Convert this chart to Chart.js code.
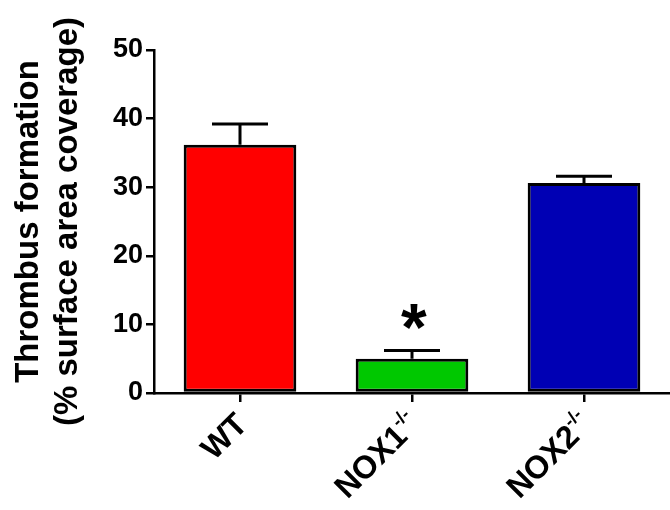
<!DOCTYPE html>
<html><head><meta charset="utf-8">
<script src="https://cdn.jsdelivr.net/npm/chart.js@4/dist/chart.umd.min.js"></script>
<style>html,body{margin:0;padding:0;background:#fff}</style>
</head><body>
<canvas id="c" width="670" height="510" style="display:block;width:670px;height:510px"></canvas>
<script>
const categories = ['WT', 'NOX1', 'NOX2'];
const labelSuperscripts = ['', '-/-', '-/-'];
const meanValues = [36.2, 5.0, 30.6];
const semValues = [3.0, 1.2, 1.0];
const significance = ['', '*', ''];
const barColors = ['#ff0000', '#00c800', '#0000b4'];
const yMin = 0, yMax = 50, yStep = 10;
const yTitle = ['Thrombus formation', '(% surface area coverage)'];

const FONT = "'Liberation Sans', Arial, Helvetica, sans-serif";

const errorBarPlugin = {
  id: 'errorBars',
  afterDatasetsDraw(chart) {
    const ctx = chart.ctx;
    const ys = chart.scales.y;
    const meta = chart.getDatasetMeta(0);
    ctx.save();
    ctx.strokeStyle = '#000';
    ctx.lineWidth = 3;
    ctx.lineCap = 'butt';
    meta.data.forEach((el, i) => {
      const x = el.x;
      const yBar = ys.getPixelForValue(meanValues[i]);
      const yTop = ys.getPixelForValue(meanValues[i] + semValues[i]);
      ctx.beginPath();
      ctx.moveTo(x, yBar);
      ctx.lineTo(x, yTop);
      ctx.moveTo(x - 28, yTop);
      ctx.lineTo(x + 28, yTop);
      ctx.stroke();
      if (significance[i]) {
        ctx.fillStyle = '#000';
        ctx.font = 'bold 66px ' + FONT;
        const m = ctx.measureText(significance[i]);
        const w = m.actualBoundingBoxLeft + m.actualBoundingBoxRight;
        const h = m.actualBoundingBoxAscent + m.actualBoundingBoxDescent;
        const cy = yTop - 34;
        ctx.textAlign = 'left';
        ctx.textBaseline = 'alphabetic';
        ctx.fillText(significance[i], x + 2 - w / 2 + m.actualBoundingBoxLeft, cy + h / 2 - m.actualBoundingBoxDescent);
      }
    });
    ctx.restore();
  }
};

const xLabelPlugin = {
  id: 'xLabels',
  afterDraw(chart) {
    const ctx = chart.ctx;
    const xs = chart.scales.x;
    const axisY = chart.chartArea.bottom;
    ctx.save();
    ctx.fillStyle = '#000';
    categories.forEach((lab, i) => {
      const tx = xs.getPixelForValue(i);
      const mainSize = 32, supSize = 18;
      ctx.font = 'bold ' + supSize + 'px ' + FONT;
      const wSup = labelSuperscripts[i] ? ctx.measureText(labelSuperscripts[i]).width : 0;
      ctx.font = 'bold ' + mainSize + 'px ' + FONT;
      const wMain = ctx.measureText(lab).width;
      ctx.translate(tx + 1, axisY + 25);
      ctx.rotate(-Math.PI / 4);
      ctx.textBaseline = 'alphabetic';
      ctx.textAlign = 'left';
      ctx.fillText(lab, -wSup - wMain, 0.36 * mainSize);
      if (wSup) {
        ctx.font = 'bold ' + supSize + 'px ' + FONT;
        ctx.fillText(labelSuperscripts[i], -wSup, -3);
      }
      ctx.setTransform(1, 0, 0, 1, 0, 0);
    });
    ctx.restore();
  }
};

new Chart(document.getElementById('c'), {
  type: 'bar',
  data: {
    labels: categories,
    datasets: [{
      data: meanValues,
      backgroundColor: barColors,
      borderColor: '#000',
      borderWidth: 3,
      borderSkipped: false,
      categoryPercentage: 1,
      barPercentage: 0.655
    }]
  },
  options: {
    responsive: false,
    devicePixelRatio: 1,
    animation: false,
    layout: { padding: { top: 50, right: 0, left: 0, bottom: 0 } },
    plugins: { legend: { display: false }, tooltip: { enabled: false } },
    scales: {
      x: {
        offset: true,
        grid: { offset: false, drawOnChartArea: false, drawTicks: true, tickLength: 9, color: '#000', lineWidth: 2.5 },
        border: { display: true, color: '#000', width: 2.5 },
        ticks: { display: false },
        afterFit(scale) { scale.height = 117; }
      },
      y: {
        min: yMin, max: yMax,
        grid: { drawOnChartArea: false, drawTicks: true, tickLength: 8, color: '#000', lineWidth: 2.5 },
        border: { display: true, color: '#000', width: 2.5 },
        ticks: { stepSize: yStep, color: '#000', padding: 3, font: { family: FONT, size: 27, weight: 'bold' } },
        title: {
          display: true, text: yTitle, color: '#000',
          font: { family: FONT, size: 33, weight: 'bold', lineHeight: 1.2 },
          padding: { top: 9, bottom: 0 }
        },
        afterFit(scale) { scale.width = 154; }
      }
    }
  },
  plugins: [errorBarPlugin, xLabelPlugin]
});
</script>
</body></html>
